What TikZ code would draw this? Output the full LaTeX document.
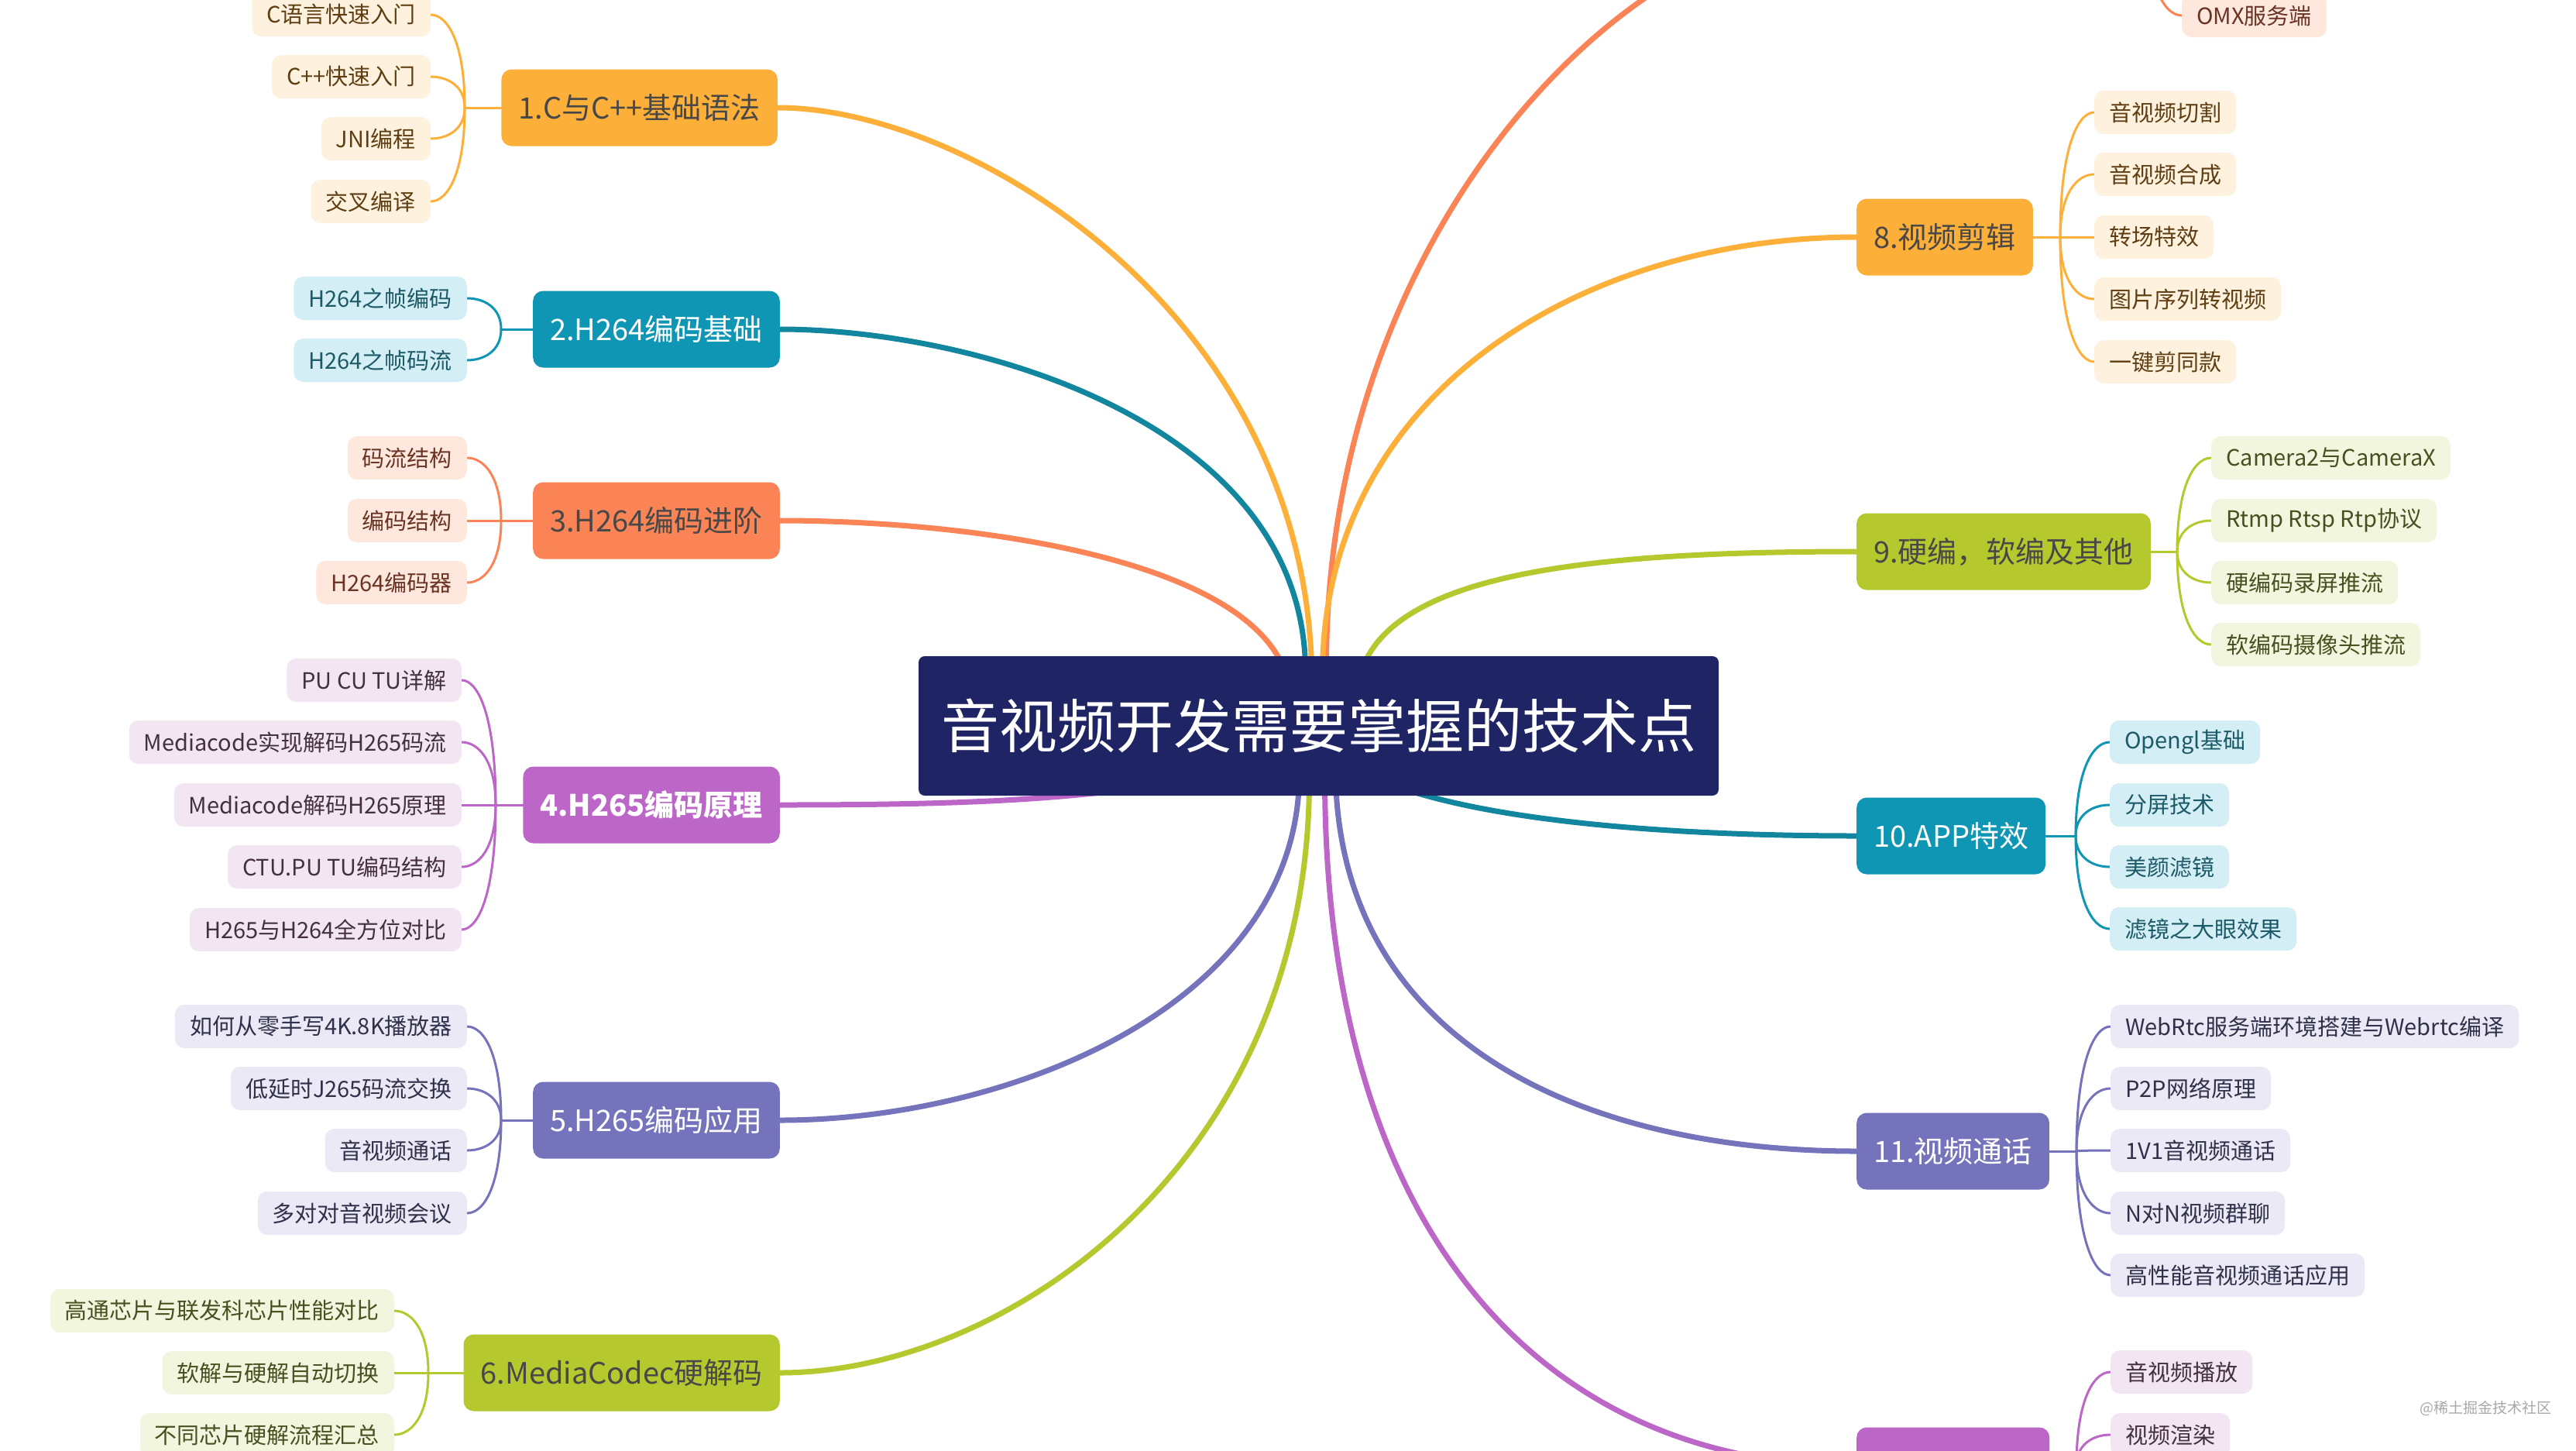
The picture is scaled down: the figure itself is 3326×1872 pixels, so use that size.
\documentclass[tikz,border=0pt]{standalone}
\usepackage{fontspec}
\setmainfont{Noto Sans CJK SC}
\usetikzlibrary{calc}
\pgfdeclarelayer{bg}
\pgfsetlayers{bg,main}

% palette
\definecolor{rootc}{HTML}{1F2464}
\definecolor{darkt}{HTML}{484848}
\definecolor{orgc}{HTML}{FCAF39}   \definecolor{orgl}{HTML}{FEF2DE}   \definecolor{orgt}{HTML}{5E3E12}
\definecolor{tealc}{HTML}{0E96B4}  \definecolor{teall}{HTML}{D3EEF4}  \definecolor{tealt}{HTML}{1D5A68}
\definecolor{tealln}{HTML}{12869F}
\definecolor{coralc}{HTML}{FA8455} \definecolor{corall}{HTML}{FEE7DC} \definecolor{coralt}{HTML}{6A3424}
\definecolor{purc}{HTML}{BC66C7}   \definecolor{purl}{HTML}{F3E6F3}   \definecolor{purt}{HTML}{45303F}
\definecolor{indc}{HTML}{7473BB}   \definecolor{indl}{HTML}{EAE9F5}   \definecolor{indt}{HTML}{30304A}
\definecolor{grnc}{HTML}{B5C92F}   \definecolor{grnl}{HTML}{F3F6DF}   \definecolor{grnt}{HTML}{485020}
\definecolor{wmark}{HTML}{A8A8A8}

\tikzset{
  rootbox/.style={fill=rootc, text=white, rounded corners=8pt, minimum width=1033pt,
    minimum height=180pt, inner sep=0pt, font=\fontsize{75}{90}\selectfont},
  mainbox/.style={rounded corners=13pt, minimum height=99pt, inner xsep=22pt, inner ysep=0pt,
    font=\fontsize{38}{46}\selectfont},
  subbox/.style={rounded corners=12pt, minimum height=56pt, inner xsep=19pt, inner ysep=0pt,
    font=\fontsize{29}{35}\selectfont},
  lmain/.style={mainbox, anchor=east},
  rmain/.style={mainbox, anchor=west},
  lsub/.style={subbox, anchor=east},
  rsub/.style={subbox, anchor=west},
  trunk/.style={line width=7pt, line cap=round},
  twig/.style={line width=3pt, line cap=round},
}

% curved elbow from a junction point into a child box
\newcommand\sprig[3]{%
  \draw[twig,#1] (#2) .. controls ($(#2)!0.7!(#2|-#3)$) and ($(#2|-#3)!0.5!(#3)$) .. (#3);}

\begin{document}
\begin{tikzpicture}[x=1pt,y=-1pt]
\useasboundingbox (0,0) rectangle (3326,1872);
\clip (0,0) rectangle (3326,1872);

% ---------- central topic ----------
\node[rootbox] (root) at (1702.5,937) {音视频开发需要掌握的技术点};

% ---------- left main topics ----------
\node[lmain, fill=orgc,   text=darkt] (m1) at (1004,139)  {1.C与C++基础语法};
\node[lmain, fill=tealc,  text=white] (m2) at (1007,425)  {2.H264编码基础};
\node[lmain, fill=coralc, text=darkt] (m3) at (1007,672)  {3.H264编码进阶};
\node[lmain, fill=purc,   text=white, font=\fontsize{38}{46}\selectfont\bfseries] (m4) at (1007,1039) {4.H265编码原理};
\node[lmain, fill=indc,   text=white] (m5) at (1007,1446) {5.H265编码应用};
\node[lmain, fill=grnc,   text=darkt] (m6) at (1007,1772) {6.MediaCodec硬解码};

% ---------- right main topics ----------
\coordinate (m7) at (2397,-100);
\node[rmain, fill=orgc,  text=darkt] (m8)  at (2397,306)  {8.视频剪辑};
\node[rmain, fill=grnc,  text=darkt] (m9)  at (2397,712)  {9.硬编，软编及其他};
\node[rmain, fill=tealc, text=white] (m10) at (2397,1079) {10.APP特效};
\node[rmain, fill=indc,  text=white] (m11) at (2397,1486) {11.视频通话};
\node[rmain, fill=purc,  text=white, minimum width=249pt] (m12) at (2397,1892) {};

% ---------- subtopics, left ----------
\begin{scope}[every node/.append style={fill=orgl, text=orgt}]
\node[lsub] (c11) at (556,19)  {C语言快速入门};
\node[lsub] (c12) at (556,99)  {C++快速入门};
\node[lsub] (c13) at (556,179) {JNI编程};
\node[lsub] (c14) at (556,260) {交叉编译};
\end{scope}
\begin{scope}[every node/.append style={fill=teall, text=tealt}]
\node[lsub] (c21) at (603,385) {H264之帧编码};
\node[lsub] (c22) at (603,465) {H264之帧码流};
\end{scope}
\begin{scope}[every node/.append style={fill=corall, text=coralt}]
\node[lsub] (c31) at (603,591) {码流结构};
\node[lsub] (c32) at (603,672) {编码结构};
\node[lsub] (c33) at (603,752) {H264编码器};
\end{scope}
\begin{scope}[every node/.append style={fill=purl, text=purt}]
\node[lsub] (c41) at (596,878)  {PU CU TU详解};
\node[lsub] (c42) at (596,958)  {Mediacode实现解码H265码流};
\node[lsub] (c43) at (596,1039) {Mediacode解码H265原理};
\node[lsub] (c44) at (596,1119) {CTU.PU TU编码结构};
\node[lsub] (c45) at (596,1200) {H265与H264全方位对比};
\end{scope}
\begin{scope}[every node/.append style={fill=indl, text=indt}]
\node[lsub] (c51) at (603,1325) {如何从零手写4K.8K播放器};
\node[lsub] (c52) at (603,1405) {低延时J265码流交换};
\node[lsub] (c53) at (603,1485) {音视频通话};
\node[lsub] (c54) at (603,1566) {多对对音视频会议};
\end{scope}
\begin{scope}[every node/.append style={fill=grnl, text=grnt}]
\node[lsub] (c61) at (509,1692) {高通芯片与联发科芯片性能对比};
\node[lsub] (c62) at (509,1772) {软解与硬解自动切换};
\node[lsub] (c63) at (509,1852) {不同芯片硬解流程汇总};
\end{scope}

% ---------- subtopics, right ----------
\node[rsub, fill=corall, text=coralt] (c71) at (2817,20) {OMX服务端};
\begin{scope}[every node/.append style={fill=orgl, text=orgt}]
\node[rsub] (c81) at (2704,145) {音视频切割};
\node[rsub] (c82) at (2704,225) {音视频合成};
\node[rsub] (c83) at (2704,306) {转场特效};
\node[rsub] (c84) at (2704,386) {图片序列转视频};
\node[rsub] (c85) at (2704,467) {一键剪同款};
\end{scope}
\begin{scope}[every node/.append style={fill=grnl, text=grnt}]
\node[rsub] (c91) at (2855,591) {Camera2与CameraX};
\node[rsub] (c92) at (2855,672) {Rtmp Rtsp Rtp协议};
\node[rsub] (c93) at (2855,752) {硬编码录屏推流};
\node[rsub] (c94) at (2855,832) {软编码摄像头推流};
\end{scope}
\begin{scope}[every node/.append style={fill=teall, text=tealt}]
\node[rsub] (ca1) at (2724,958)  {Opengl基础};
\node[rsub] (ca2) at (2724,1039) {分屏技术};
\node[rsub] (ca3) at (2724,1119) {美颜滤镜};
\node[rsub] (ca4) at (2724,1199) {滤镜之大眼效果};
\end{scope}
\begin{scope}[every node/.append style={fill=indl, text=indt}]
\node[rsub] (cb1) at (2725,1325) {WebRtc服务端环境搭建与Webrtc编译};
\node[rsub] (cb2) at (2725,1405) {P2P网络原理};
\node[rsub] (cb3) at (2725,1485) {1V1音视频通话};
\node[rsub] (cb4) at (2725,1566) {N对N视频群聊};
\node[rsub] (cb5) at (2725,1646) {高性能音视频通话应用};
\end{scope}
\begin{scope}[every node/.append style={fill=purl, text=purt}]
\node[rsub] (cc1) at (2725,1771) {音视频播放};
\node[rsub] (cc2) at (2725,1852) {视频渲染};
\end{scope}

\node[anchor=west, text=wmark, font=\fontsize{19}{22}\selectfont] (wm) at (3121,1818) {@稀土掘金技术社区};

% ---------- bracket junctions ----------
\coordinate (j1) at (600,139);   \coordinate (j2) at (647,425);
\coordinate (j3) at (647,672);   \coordinate (j4) at (640,1039);
\coordinate (j5) at (647,1446);  \coordinate (j6) at (553,1772);
\coordinate (j7) at (2773,-100); \coordinate (j8) at (2660,306);
\coordinate (j9) at (2811,712);  \coordinate (j10) at (2680,1079);
\coordinate (j11) at (2681,1486);\coordinate (j12) at (2681,1892);

\begin{pgfonlayer}{bg}
\fill[white] (0,0) rectangle (3326,1872);
\clip (0,0) rectangle (3326,1872);
% trunks from the central topic
\draw[trunk, orgc]   ($(root.north)+(-9,13)$)  .. controls (1680,400)  and (1250,139)  .. (m1.east);
\draw[trunk, tealln] ($(root.north)+(-17,13)$) .. controls (1678,540)  and (1250,425)  .. (m2.east);
\draw[trunk, coralc] ($(root.north)+(-40,30)$) .. controls (1620,720)  and (1250,672)  .. (m3.east);
\draw[trunk, purc]   ($(root.center)+(0,13)$)  .. controls (1550,1030) and (1300,1039) .. (m4.east);
\draw[trunk, indc]   ($(root.south)+(-25,-20)$) .. controls (1670,1300) and (1300,1446) .. (m5.east);
\draw[trunk, grnc]   ($(root.south)+(-12,-20)$) .. controls (1690,1500) and (1300,1772) .. (m6.east);
\draw[trunk, coralc] ($(root.north)+(10,13)$)  .. controls (1712,300)  and (2100,-100) .. (m7);
\draw[trunk, orgc]   ($(root.north)+(5,13)$)   .. controls (1715,500)  and (2050,306)  .. (m8.west);
\draw[trunk, grnc]   ($(root.north)+(55,20)$)  .. controls (1800,740)  and (2050,712)  .. (m9.west);
\draw[trunk, tealln] ($(root.center)+(0,13)$)  .. controls (1765,1050) and (2100,1079) .. (m10.west);
\draw[trunk, indc]   ($(root.south)+(22,-20)$) .. controls (1735,1350) and (2050,1486) .. (m11.west);
\draw[trunk, purc]   ($(root.south)+(8,-20)$)  .. controls (1712,1600) and (2000,1892) .. (m12.west);

% stubs from main topics to their junctions
\draw[twig, orgc]   (m1.west) -- (j1);
\draw[twig, tealc]  (m2.west) -- (j2);
\draw[twig, coralc] (m3.west) -- (j3);
\draw[twig, purc]   (m4.west) -- (j4);
\draw[twig, indc]   (m5.west) -- (j5);
\draw[twig, grnc]   (m6.west) -- (j6);
\draw[twig, orgc]   (m8.east) -- (j8);
\draw[twig, grnc]   (m9.east) -- (j9);
\draw[twig, tealc]  (m10.east) -- (j10);
\draw[twig, indc]   (m11.east) -- (j11);
\draw[twig, purc]   (m12.east) -- (j12);

% brackets into subtopics
\foreach \c in {c11,c12,c13,c14} {\sprig{orgc}{j1}{\c.east}}
\foreach \c in {c21,c22} {\sprig{tealc}{j2}{\c.east}}
\foreach \c in {c31,c32,c33} {\sprig{coralc}{j3}{\c.east}}
\foreach \c in {c41,c42,c43,c44,c45} {\sprig{purc}{j4}{\c.east}}
\foreach \c in {c51,c52,c53,c54} {\sprig{indc}{j5}{\c.east}}
\foreach \c in {c61,c62,c63} {\sprig{grnc}{j6}{\c.east}}
\sprig{coralc}{j7}{c71.west}
\foreach \c in {c81,c82,c83,c84,c85} {\sprig{orgc}{j8}{\c.west}}
\foreach \c in {c91,c92,c93,c94} {\sprig{grnc}{j9}{\c.west}}
\foreach \c in {ca1,ca2,ca3,ca4} {\sprig{tealc}{j10}{\c.west}}
\foreach \c in {cb1,cb2,cb3,cb4,cb5} {\sprig{indc}{j11}{\c.west}}
\foreach \c in {cc1,cc2} {\sprig{purc}{j12}{\c.west}}
\end{pgfonlayer}
\end{tikzpicture}
\end{document}
